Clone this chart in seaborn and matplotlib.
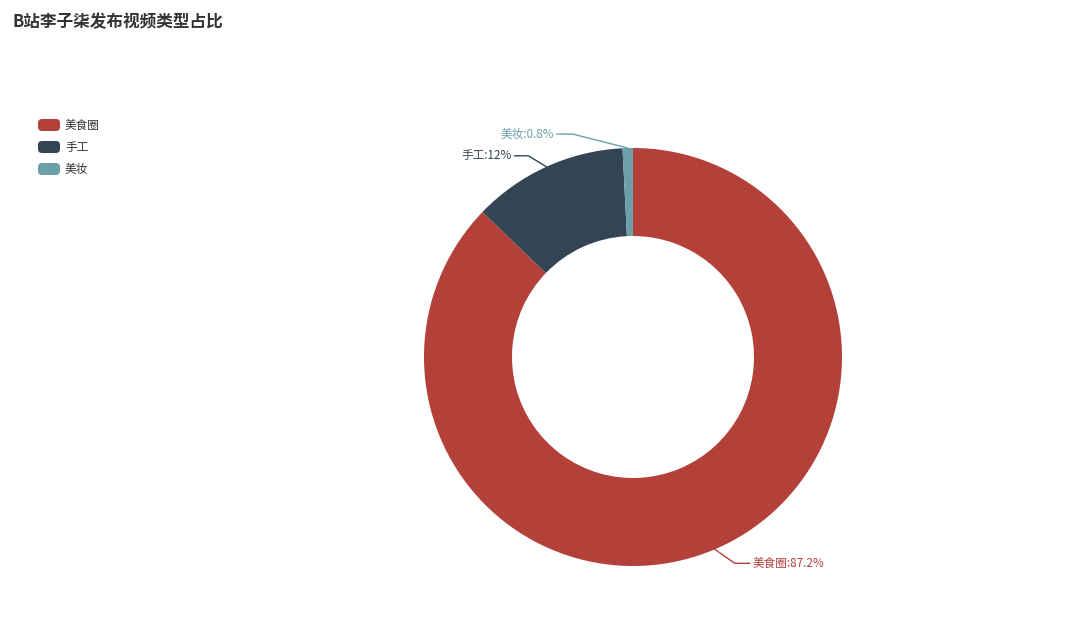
import numpy as np
import matplotlib
matplotlib.use("Agg")
import matplotlib.pyplot as plt
import seaborn as sns
from matplotlib.patches import FancyBboxPatch

categories = ["美食圈", "手工", "美妆"]
values = [87.2, 12.0, 0.8]
label_texts = ["美食圈:87.2%", "手工:12%", "美妆:0.8%"]
colors = ["#b4403a", "#334555", "#6ca0a8"]
title = "B站李子柒发布视频类型占比"

sns.set_theme(style="white")
plt.rcParams["font.family"] = ["Noto Sans CJK SC", "DejaVu Sans"]

W, H = 1080, 624
fig = plt.figure(figsize=(W / 100, H / 100), dpi=100)
ax = fig.add_axes([0, 0, 1, 1])

cx, cy = 633, H - 357
R, ring = 209, 88

palette = sns.color_palette(colors)
wedges, _ = ax.pie(values, colors=palette, startangle=90, counterclock=False,
                   radius=R, center=(cx, cy),
                   wedgeprops=dict(width=ring, linewidth=0, edgecolor="none"))
ax.set_xlim(0, W)
ax.set_ylim(0, H)
ax.set_aspect("equal")
ax.axis("off")

# label lines (layout: elbow offset, horizontal length, direction)
layout = [((20, -14), 15, 1), ((-18, 11), 14, -1), ((-55, 14), 16, -1)]
total = sum(values)
cum = 0
for i, v in enumerate(values):
    mid = (cum + v / 2) / total * 360
    cum += v
    th = np.deg2rad(mid)
    ex, ey = cx + R * np.sin(th), cy + R * np.cos(th)
    (dx, dy), hl, d = layout[i]
    bx, by = ex + dx, ey + dy
    tx = bx + d * hl
    ax.plot([ex, bx, tx], [ey, by, by], color=colors[i], lw=1)
    ax.text(tx + d * 3, by, label_texts[i], color=colors[i], fontsize=8.4,
            ha="left" if d > 0 else "right", va="center")

# legend
for i, c in enumerate(categories):
    y = H - (125 + 22 * i)
    ax.add_patch(FancyBboxPatch((38, y - 6), 22, 12,
                                boxstyle="round,pad=0,rounding_size=4",
                                facecolor=colors[i], edgecolor="none"))
    ax.text(65, y, c, fontsize=8.4, color="#333333", va="center", ha="left")

ax.text(12, H - 22, title, fontsize=12, fontweight="bold", color="#333333",
        va="center", ha="left")

fig.savefig("out.png", dpi=100)
